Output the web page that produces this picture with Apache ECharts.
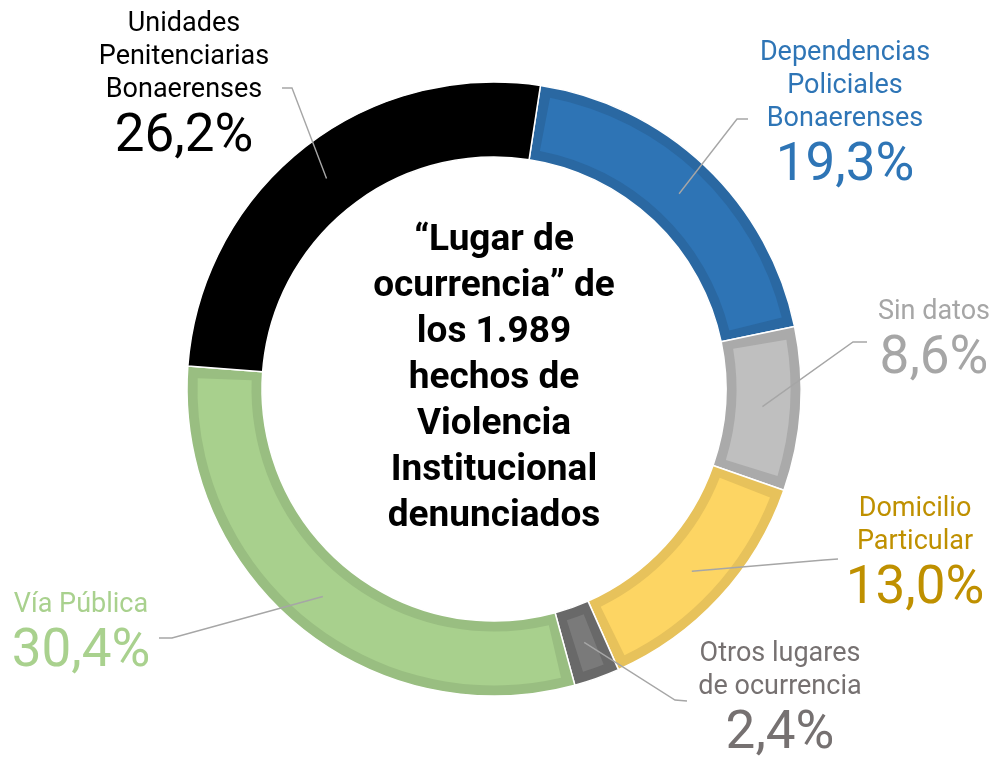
<!DOCTYPE html>
<html>
<head>
<meta charset="utf-8">
<script src="https://cdn.jsdelivr.net/npm/echarts@6/dist/echarts.min.js"></script>
<style>
html,body{margin:0;padding:0;background:#fff;}
#chart{width:996px;height:760px;}
</style>
</head>
<body>
<div id="chart"></div>
<script>
// ---- data ----
const categories = [
  'Dependencias\nPoliciales\nBonaerenses',
  'Sin datos',
  'Domicilio\nParticular',
  'Otros lugares\nde ocurrencia',
  'Vía Pública',
  'Unidades\nPenitenciarias\nBonaerenses'
];
const values = [19.3, 8.6, 13.0, 2.4, 30.4, 26.2];
const centerTitle = '“Lugar de\nocurrencia” de\nlos 1.989\nhechos de\nViolencia\nInstitucional\ndenunciados';

// ---- styles / layout ----
const fillColors   = ['#2E74B5', '#BFBFBF', '#FDD563', '#7A7A7A', '#A8D08D', '#000000'];
const borderColors = ['#2A68A2', '#AAAAAA', '#E7C25B', '#696969', '#99BE81', '#000000'];
const textColors   = ['#2E75B6', '#A6A6A6', '#BF9000', '#767171', '#A9D18E', '#000000'];
const CX = 494, CY = 389, R0 = 232, R1 = 307, RMID = 269, INSET = 10.5;
const START_CW = 8.7; // degrees clockwise from 12 o'clock
// label block anchors: [centerX, topY]
const labelAnchors = [[845, 37], [934, 296], [915, 493], [780, 638], [81, 589], [184, 8]];
// leader line elbow and end points
const labelElbows = [[737, 119], [853, 342], [824, 560], [675, 700], [172, 638], [292, 88]];
const labelEnds   = [[748, 119], [867, 342], [838, 559], [687, 701], [159, 638], [282, 88]];

const total = values.reduce((a, b) => a + b, 0);
function midPoint(i) {
  let cum = 0;
  for (let k = 0; k < i; k++) cum += values[k];
  const frac = (cum + values[i] / 2) / total;
  const th = (START_CW + frac * 360) * Math.PI / 180;
  return [CX + RMID * Math.sin(th), CY - RMID * Math.cos(th)];
}
function pct(v) { return v.toFixed(1).replace('.', ',') + '%'; }

const chart = echarts.init(document.getElementById('chart'), null, {renderer: 'canvas'});

const outerData = categories.map((c, i) => ({
  name: c, value: values[i], itemStyle: {color: borderColors[i]}
}));
const innerData = categories.map((c, i) => ({
  name: c, value: values[i], itemStyle: {color: fillColors[i]}
}));
const labelData = categories.map((c, i) => ({
  name: c, value: values[i],
  itemStyle: {color: 'rgba(0,0,0,0)'},
  label: {
    rich: {
      n: {fontFamily: 'Roboto', fontSize: 27, lineHeight: 33, color: textColors[i], align: 'center'},
      p: {fontFamily: 'Roboto', fontSize: 53, lineHeight: 62, color: textColors[i], align: 'center'}
    }
  }
}));

const common = {
  type: 'pie',
  center: [CX, CY],
  startAngle: 90 - START_CW,
  clockwise: true,
  avoidLabelOverlap: false,
  emphasis: {disabled: true},
  silent: true
};

chart.setOption({
  animation: false,
  backgroundColor: '#ffffff',
  graphic: [{
    type: 'text',
    x: CX, y: 379,
    style: {
      text: centerTitle,
      fontFamily: 'Roboto', fontWeight: 'bold', fontSize: 37, lineHeight: 46,
      fill: '#000', align: 'center', verticalAlign: 'middle'
    },
    z: 10
  }],
  series: [Object.assign({}, common, {
    radius: [R0, R1],
    itemStyle: {borderColor: '#ffffff', borderWidth: 1.5},
    label: {show: false},
    labelLine: {show: false},
    data: outerData,
    z: 1
  }), Object.assign({}, common, {
    radius: [R0 + INSET, R1 - INSET],
    padAngle: 4.4,
    label: {show: false},
    labelLine: {show: false},
    data: innerData,
    z: 2
  }), Object.assign({}, common, {
    radius: [R0, R1],
    label: {
      show: true,
      position: 'outside',
      formatter: function (p) {
        const lines = p.name.split('\n').map(s => '{n|' + s + '}').join('\n');
        return lines + '\n{p|' + pct(p.value) + '}';
      }
    },
    labelLine: {show: true, lineStyle: {color: '#A6A6A6', width: 1.4}},
    labelLayout: function (params) {
      const i = params.dataIndex;
      const a = labelAnchors[i];
      return {
        x: a[0], y: a[1], align: 'center', verticalAlign: 'top',
        labelLinePoints: [midPoint(i), labelElbows[i].slice(), labelEnds[i].slice()]
      };
    },
    data: labelData,
    z: 3
  })]
});
</script>
</body>
</html>
